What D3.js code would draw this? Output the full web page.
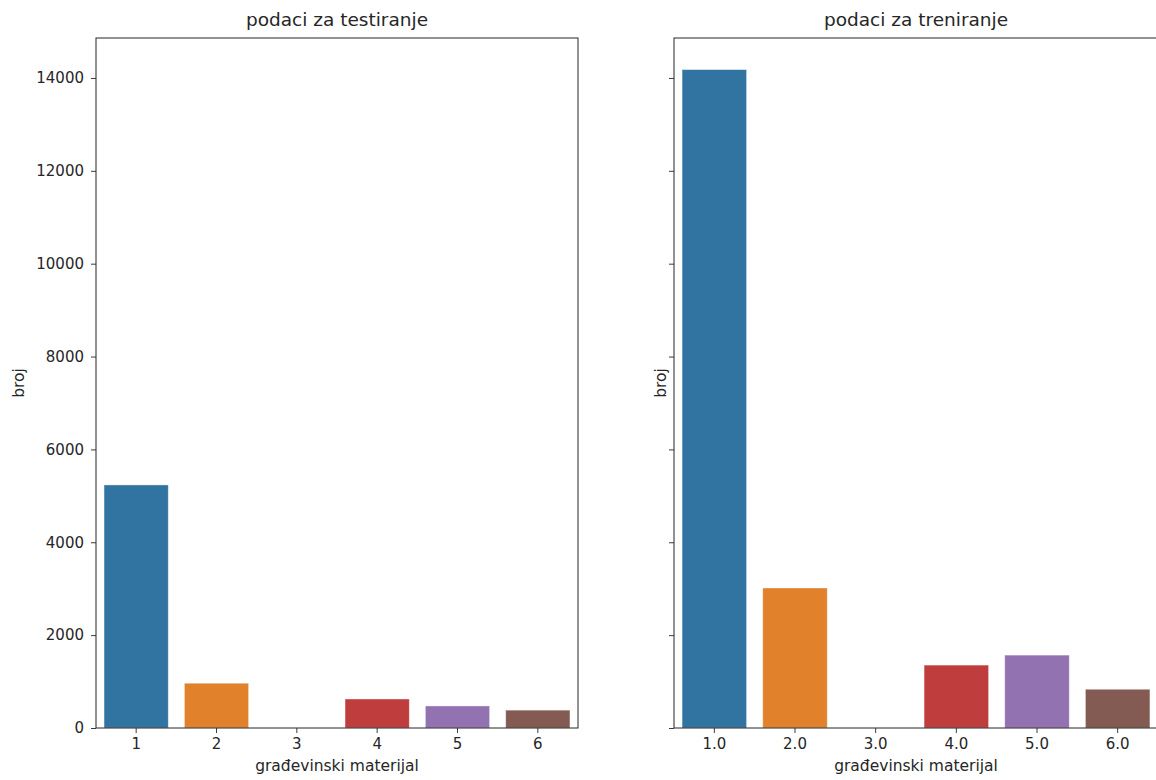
<!DOCTYPE html>
<html><head><meta charset="utf-8">
<script src="https://cdn.jsdelivr.net/npm/d3@7"></script>
<style>body{margin:0;background:#fff}text{font-family:"DejaVu Sans",sans-serif;fill:#262626}</style>
</head><body><svg id="c" width="1156" height="780"></svg>
<script>
const testCategories = ["1","2","3","4","5","6"];
const trainCategories = ["1.0","2.0","3.0","4.0","5.0","6.0"];
const testValues = [5235, 965, 0, 625, 475, 385];
const trainValues = [14180, 3015, 0, 1355, 1570, 835];
const yTicks = [0,2000,4000,6000,8000,10000,12000,14000];
const colors = ["#3274a1","#e1812c","#3a923a","#c03d3e","#9372b2","#845b53"];
const titles = ["podaci za testiranje","podaci za treniranje"];
const xLabel = "građevinski materijal";
const yLabel = "broj";

const svg = d3.select("#c");
const plotTop = 38, plotBottom = 728;
const yMax = d3.max(testValues.concat(trainValues)) * 1.048;
const y = d3.scaleLinear().domain([0, yMax]).range([plotBottom, plotTop]);

const panels = [
  {left:96, right:578, cats:testCategories, vals:testValues, title:titles[0], showY:true, ylabX:18},
  {left:674, right:1158, cats:trainCategories, vals:trainValues, title:titles[1], showY:false, ylabX:660}
];

panels.forEach(p => {
  const g = svg.append("g");
  const x = d3.scaleBand().domain(p.cats).range([p.left, p.right]).paddingInner(0.2).paddingOuter(0.1);
  g.selectAll("rect.bar").data(p.cats.map((c,i)=>({c, v:p.vals[i], i}))).enter()
    .append("rect").attr("class","bar")
    .attr("x", d=>x(d.c)).attr("width", x.bandwidth())
    .attr("y", d=>y(d.v)).attr("height", d=>plotBottom - y(d.v))
    .attr("fill", d=>colors[d.i]).attr("stroke","#ffffff").attr("stroke-opacity",0.5).attr("stroke-width",0.8);

  const yAxis = d3.axisLeft(y).tickValues(yTicks).tickSize(5).tickPadding(7)
    .tickFormat(p.showY ? d3.format("d") : "");
  const ya = g.append("g").attr("transform",`translate(${p.left},0)`).call(yAxis);
  const xAxis = d3.axisBottom(x).tickSize(5).tickPadding(5);
  const xa = g.append("g").attr("transform",`translate(0,${plotBottom})`).call(xAxis);
  [ya, xa].forEach(a => {
    a.select(".domain").remove();
    a.selectAll(".tick line").attr("stroke","#262626").attr("stroke-width",0.9);
    a.selectAll(".tick text").style("font-size","15px").attr("fill","#262626");
  });
  g.append("rect").attr("x",p.left).attr("y",plotTop).attr("width",p.right-p.left).attr("height",plotBottom-plotTop)
    .attr("fill","none").attr("stroke","#262626").attr("stroke-width",1);
  const cx = (p.left + p.right)/2;
  g.append("text").attr("x",cx).attr("y",26).attr("text-anchor","middle").style("font-size","18.5px").text(p.title);
  g.append("text").attr("x",cx).attr("y",771).attr("text-anchor","middle").style("font-size","15.5px").text(xLabel);
  g.append("text").attr("transform",`translate(${p.ylabX+6},${(plotTop+plotBottom)/2}) rotate(-90)`)
    .attr("text-anchor","middle").style("font-size","15.5px").text(yLabel);
});
</script></body></html>
